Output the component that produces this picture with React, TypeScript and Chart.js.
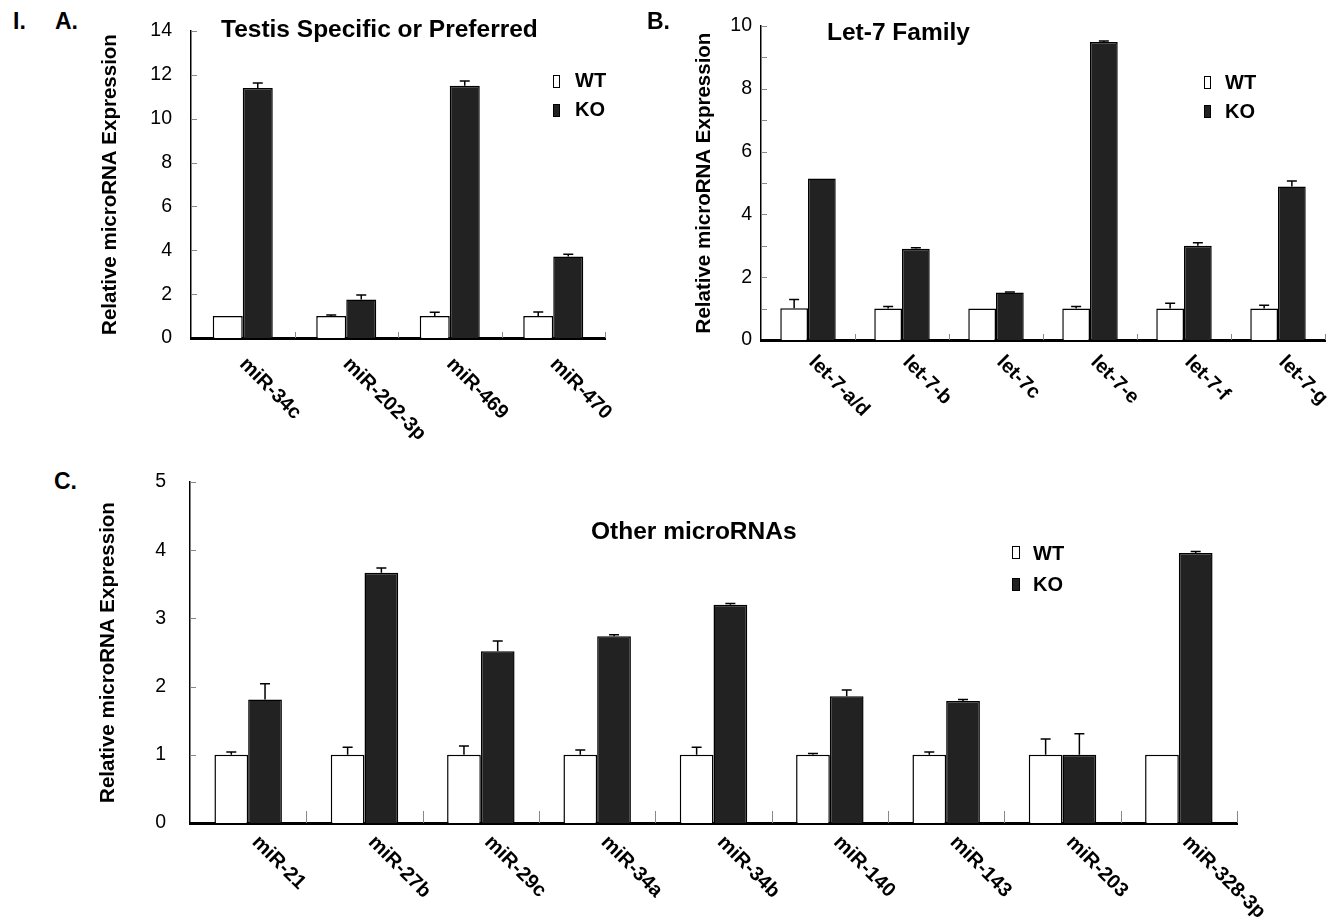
import React, { useEffect, useRef } from 'react';
import { Chart, registerables } from 'chart.js';

Chart.register(...registerables);

const FONT = '"Liberation Sans", Arial, Helvetica, sans-serif';
const Y_TITLE = 'Relative microRNA Expression';

// ---- Panel A: Testis Specific or Preferred ----
const categoriesA = ['miR-34c', 'miR-202-3p', 'miR-469', 'miR-470'];
const wtA = [1, 1, 1, 1];
const wtErrA = [0, 0.05, 0.17, 0.18];
const koA = [11.4, 1.76, 11.5, 3.72];
const koErrA = [0.23, 0.2, 0.22, 0.1];

// ---- Panel B: Let-7 Family ----
const categoriesB = ['let-7-a/d', 'let-7-b', 'let-7c', 'let-7-e', 'let-7-f', 'let-7-g'];
const wtB = [1.01, 1.0, 1.0, 1.0, 1.0, 1.0];
const wtErrB = [0.28, 0.07, 0, 0.07, 0.17, 0.11];
const koB = [5.14, 2.91, 1.51, 9.49, 3.0, 4.89];
const koErrB = [0, 0.03, 0.02, 0.03, 0.1, 0.17];

// ---- Panel C: Other microRNAs ----
const categoriesC = ['miR-21', 'miR-27b', 'miR-29c', 'miR-34a', 'miR-34b', 'miR-140', 'miR-143', 'miR-203', 'miR-328-3p'];
const wtC = [1, 1, 1, 1, 1, 1, 1, 1, 1];
const wtErrC = [0.04, 0.11, 0.13, 0.07, 0.11, 0.02, 0.04, 0.23, 0];
const koC = [1.81, 3.67, 2.52, 2.74, 3.2, 1.86, 1.79, 1.0, 3.96];
const koErrC = [0.23, 0.07, 0.15, 0.02, 0.02, 0.09, 0.02, 0.31, 0.02];

type PanelProps = {
  left: number; top: number; width: number; height: number;
  categories: string[]; wt: number[]; wtErr: number[]; ko: number[]; koErr: number[];
  yMax: number; yStep: number; minorStep: number;
  area: { l: number; t: number; r: number; b: number };
  tickPad: number; titlePad: number; catPct: number; cap: number;
  labelDx: number; labelDy: number; dividerLen: number;
};

function BarPanel(p: PanelProps) {
  const ref = useRef<HTMLCanvasElement>(null);
  useEffect(() => {
    if (!ref.current) return;
    const errPlugin = {
      id: 'errBars',
      afterDatasetsDraw(chart: any) {
        const ctx = chart.ctx;
        const y = chart.scales.y;
        const sets = [
          { vals: p.wt, errs: p.wtErr },
          { vals: p.ko, errs: p.koErr },
        ];
        sets.forEach((s, di) => {
          const meta = chart.getDatasetMeta(di);
          meta.data.forEach((el: any, i: number) => {
            const e = s.errs[i];
            if (!e) return;
            const y0 = y.getPixelForValue(s.vals[i]);
            const y1 = y.getPixelForValue(s.vals[i] + e);
            ctx.save();
            ctx.strokeStyle = '#000';
            ctx.lineWidth = 1.5;
            ctx.beginPath();
            ctx.moveTo(el.x, y0);
            ctx.lineTo(el.x, y1);
            ctx.moveTo(el.x - p.cap, y1);
            ctx.lineTo(el.x + p.cap, y1);
            ctx.stroke();
            ctx.restore();
          });
        });
      },
    };
    const decorPlugin = {
      id: 'decor',
      afterDraw(chart: any) {
        const { ctx, chartArea } = chart;
        const x = chart.scales.x;
        const y = chart.scales.y;
        ctx.save();
        ctx.strokeStyle = '#888';
        ctx.lineWidth = 1;
        for (let v = p.minorStep; v <= p.yMax + 1e-9; v += p.minorStep) {
          const py = Math.round(y.getPixelForValue(v)) + 0.5;
          ctx.beginPath();
          ctx.moveTo(chartArea.left, py);
          ctx.lineTo(chartArea.left + 6, py);
          ctx.stroke();
        }
        const n = p.categories.length;
        for (let i = 1; i <= n; i++) {
          const px = i < n
            ? (x.getPixelForValue(i - 1) + x.getPixelForValue(i)) / 2
            : chartArea.right;
          const rx = Math.round(px) + 0.5;
          ctx.beginPath();
          ctx.moveTo(rx, chartArea.bottom);
          ctx.lineTo(rx, chartArea.bottom - p.dividerLen);
          ctx.stroke();
        }
        ctx.fillStyle = '#000';
        ctx.font = `bold 20px ${FONT}`;
        ctx.textAlign = 'left';
        ctx.textBaseline = 'top';
        p.categories.forEach((c, i) => {
          ctx.save();
          ctx.translate(x.getPixelForValue(i) + p.labelDx, chartArea.bottom + p.labelDy);
          ctx.rotate(Math.PI / 4);
          ctx.fillText(c, 0, 0);
          ctx.restore();
        });
        ctx.restore();
      },
    };
    const chart = new Chart(ref.current, {
      type: 'bar',
      data: {
        labels: p.categories,
        datasets: [
          {
            label: 'WT', data: p.wt, backgroundColor: '#ffffff', borderColor: '#000000',
            borderWidth: 1.5, borderSkipped: 'bottom', categoryPercentage: p.catPct, barPercentage: 1,
          },
          {
            label: 'KO', data: p.ko, backgroundColor: '#222222', borderColor: '#000000',
            borderWidth: 1.5, borderSkipped: 'bottom', categoryPercentage: p.catPct, barPercentage: 1,
          },
        ],
      },
      options: {
        responsive: false,
        animation: false,
        devicePixelRatio: 1,
        layout: { padding: { left: 0, top: p.area.t, right: p.width - p.area.r, bottom: 0 } },
        plugins: { legend: { display: false }, tooltip: { enabled: false }, title: { display: false } },
        scales: {
          x: {
            type: 'category',
            z: 1,
            grid: { display: false, drawTicks: false },
            ticks: { display: false },
            border: { display: true, color: '#000', width: 3 },
            afterFit(s: any) { s.height = p.height - p.area.b; s.paddingLeft = 0; s.paddingRight = 0; },
          },
          y: {
            min: 0,
            max: p.yMax,
            ticks: { stepSize: p.yStep, padding: p.tickPad, color: '#000', font: { size: 19.5, family: FONT } },
            grid: { display: false, drawTicks: false },
            border: { display: true, color: '#000', width: 1.5 },
            title: {
              display: true, text: Y_TITLE, color: '#000',
              font: { size: 20.5, weight: 'bold', family: FONT },
              padding: { top: p.titlePad, bottom: 0 },
            },
            afterFit(s: any) { s.width = p.area.l; s.paddingTop = 0; s.paddingBottom = 0; },
          },
        },
      } as any,
      plugins: [errPlugin, decorPlugin],
    });
    return () => chart.destroy();
  }, []);
  return (
    <canvas
      ref={ref}
      width={p.width}
      height={p.height}
      style={{ position: 'absolute', left: p.left, top: p.top, width: p.width, height: p.height }}
    />
  );
}

const txt = (s: string, left: number, top: number, size: number, extra: any = {}) => (
  <div
    style={{
      position: 'absolute', left, top, fontFamily: FONT, fontWeight: 'bold', fontSize: size,
      lineHeight: 1, whiteSpace: 'nowrap', color: '#000', ...extra,
    }}
  >
    {s}
  </div>
);

const box = (left: number, top: number, w: number, h: number, fill: string) => (
  <div
    style={{
      position: 'absolute', left, top, width: w, height: h, background: fill,
      border: '1px solid #000', boxSizing: 'border-box',
    }}
  />
);

export default function App() {
  return (
    <div style={{ position: 'absolute', left: 0, top: 0, width: 1327, height: 921, background: '#fff', overflow: 'hidden' }}>
      <BarPanel
        left={90} top={0} width={530} height={450}
        categories={categoriesA} wt={wtA} wtErr={wtErrA} ko={koA} koErr={koErrA}
        yMax={14} yStep={2} minorStep={2}
        area={{ l: 101, t: 31, r: 515, b: 338 }}
        tickPad={19} titlePad={8} catPct={0.58} cap={5}
        labelDx={7} labelDy={16} dividerLen={6}
      />
      <BarPanel
        left={640} top={0} width={687} height={450}
        categories={categoriesB} wt={wtB} wtErr={wtErrB} ko={koB} koErr={koErrB}
        yMax={10} yStep={2} minorStep={1}
        area={{ l: 121, t: 26, r: 685, b: 340 }}
        tickPad={9} titlePad={52} catPct={0.59} cap={5}
        labelDx={11} labelDy={12} dividerLen={6}
      />
      <BarPanel
        left={90} top={450} width={1237} height={471}
        categories={categoriesC} wt={wtC} wtErr={wtErrC} ko={koC} koErr={koErrC}
        yMax={5} yStep={1} minorStep={1}
        area={{ l: 100, t: 32, r: 1147, b: 373 }}
        tickPad={24} titlePad={6} catPct={0.58} cap={5}
        labelDx={14} labelDy={9} dividerLen={12}
      />

      {txt('I.', 13, 10, 23)}
      {txt('A.', 55, 10, 23)}
      {txt('B.', 647, 10, 23)}
      {txt('C.', 54, 470, 23)}

      {txt('Testis Specific or Preferred', 221, 17, 24.5)}
      {txt('Let-7 Family', 827, 20, 24.5)}
      {txt('Other microRNAs', 591, 519, 24.5)}

      {box(553, 75, 7, 13, '#fff')}
      {txt('WT', 575, 70, 20)}
      {box(553, 104, 7, 13, '#222')}
      {txt('KO', 575, 99, 20)}

      {box(1204, 76, 7, 13, '#fff')}
      {txt('WT', 1225, 72, 20)}
      {box(1204, 105, 7, 13, '#222')}
      {txt('KO', 1225, 101, 20)}

      {box(1012, 546, 8, 13, '#fff')}
      {txt('WT', 1033, 543, 20)}
      {box(1012, 578, 8, 13, '#222')}
      {txt('KO', 1033, 574, 20)}
    </div>
  );
}
